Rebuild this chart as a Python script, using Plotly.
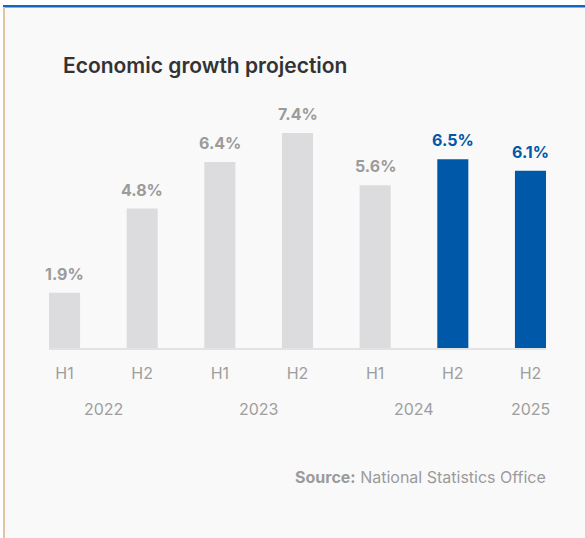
import plotly.graph_objects as go

# Half-year GDP growth, % (last two periods are projections)
halves = ["H1", "H2", "H1", "H2", "H1", "H2", "H2"]
years = ["2022", "2022", "2023", "2023", "2024", "2024", "2025"]
growth = [1.9, 4.8, 6.4, 7.4, 5.6, 6.5, 6.1]
projected = [False, False, False, False, False, True, True]

year_labels = ["2022", "2023", "2024", "2025"]

W, H = 585, 538
ML, MR, MT, MB = 49, 39, 100, 190
PW, PH = W - ML - MR, H - MT - MB

GREY_BAR = "#dcdcde"
BLUE = "#0058a8"
GREY_TXT = "#9b9b9b"
TICK_TXT = "#9e9e9e"
BG = "#f9f9f9"
FONT = "Inter"


def px_x(px):
    return (px - ML) / PW


def px_y(py):
    return (H - MB - py) / PH


xs = list(range(len(growth)))
colors = [BLUE if p else GREY_BAR for p in projected]

fig = go.Figure(
    go.Bar(
        x=xs,
        y=growth,
        width=0.4,
        marker=dict(color=colors, line=dict(width=0)),
        hoverinfo="skip",
    )
)

annotations = []
# value labels above bars
for x, v, p in zip(xs, growth, projected):
    annotations.append(
        dict(
            x=x, y=v, xref="x", yref="y",
            text=f"<b>{v}%</b>",
            showarrow=False, yanchor="bottom", yshift=7,
            font=dict(family=FONT, size=16, color=BLUE if p else GREY_TXT),
        )
    )

# year labels centred under their half-year groups
for yl in year_labels:
    idx = [i for i, y in enumerate(years) if y == yl]
    annotations.append(
        dict(
            x=sum(idx) / len(idx), y=px_y(409), xref="x", yref="paper",
            text=yl, showarrow=False, yanchor="middle",
            font=dict(family=FONT, size=16, color=TICK_TXT),
        )
    )

# title
annotations.append(
    dict(
        x=px_x(61), y=px_y(65), xref="paper", yref="paper",
        text="Economic growth projection", showarrow=False,
        xanchor="left", yanchor="middle",
        font=dict(family=FONT, size=21, color="#333333", weight=600),
    )
)

# source note
annotations.append(
    dict(
        x=px_x(548), y=px_y(477), xref="paper", yref="paper",
        text="<b>Source:</b> National Statistics Office", showarrow=False,
        xanchor="right", yanchor="middle",
        font=dict(family=FONT, size=16, color=GREY_TXT),
    )
)

shapes = [
    # card background
    dict(type="rect", xref="paper", yref="paper", layer="below",
         x0=px_x(3), x1=px_x(W + 5), y0=px_y(5), y1=px_y(H + 5),
         fillcolor=BG, line=dict(width=0)),
    # top accent line
    dict(type="rect", xref="paper", yref="paper",
         x0=px_x(3), x1=px_x(W + 5), y0=px_y(5), y1=px_y(7.5),
         fillcolor="#1565c0", line=dict(width=0)),
    # left accent line
    dict(type="rect", xref="paper", yref="paper",
         x0=px_x(3), x1=px_x(5), y0=px_y(7), y1=px_y(H + 5),
         fillcolor="#e2c6a2", line=dict(width=0)),
]

fig.update_layout(
    width=W, height=H,
    margin=dict(l=ML, r=MR, t=MT, b=MB, pad=0),
    paper_bgcolor="white",
    plot_bgcolor="rgba(0,0,0,0)",
    showlegend=False,
    font=dict(family=FONT),
    annotations=annotations,
    shapes=shapes,
    xaxis=dict(
        range=[-0.2, len(growth) - 0.8],
        tickmode="array", tickvals=xs, ticktext=halves,
        showgrid=False, zeroline=False,
        showline=True, linecolor="#e3e3e3", linewidth=1.5,
        ticks="", ticklabelstandoff=10,
        tickfont=dict(family=FONT, size=16, color=TICK_TXT),
        fixedrange=True,
    ),
    yaxis=dict(
        range=[0, PH / 29.05],
        visible=False, showgrid=False, zeroline=False,
        fixedrange=True,
    ),
)

fig.write_html("out.html")
